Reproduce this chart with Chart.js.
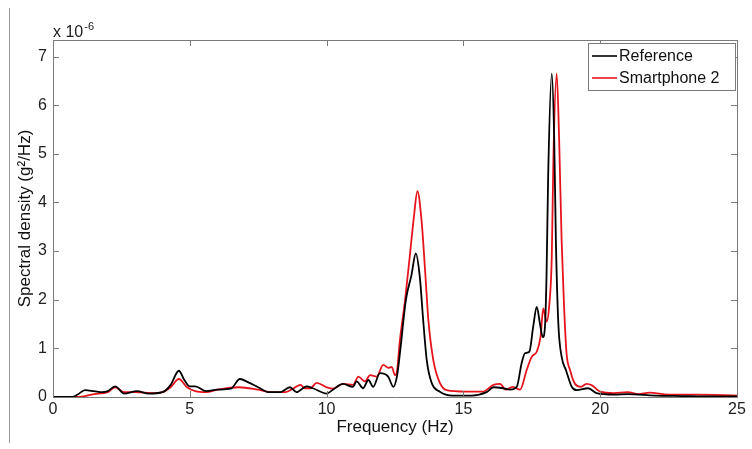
<!DOCTYPE html>
<html>
<head>
<meta charset="utf-8">
<script src="https://cdn.jsdelivr.net/npm/chart.js@4.4.1/dist/chart.umd.min.js"></script>
<style>
  body { margin: 0; background: #fff; }
  #wrap { position: relative; width: 752px; height: 449px; }
  #edge { position: absolute; left: 9px; top: 8px; width: 1px; height: 435px; background: #9a9a9a; }
</style>
</head>
<body>
<div id="wrap">
  <div id="edge"></div>
  <canvas id="psd" width="752" height="449"></canvas>
</div>
<script>
//------------- DATA (spectral density, units of 1e-6 g^2/Hz) -------------

const refFreq = [0, 0.7, 0.9, 1.17, 1.5, 1.8, 2.0, 2.27, 2.6, 3.07, 3.5, 4.0, 4.3, 4.6, 4.8, 5.0, 5.2, 5.6, 6.0, 6.5,
  6.83, 7.14, 7.5, 7.9, 8.3, 8.66, 8.9, 9.27, 9.5, 10.0, 10.23, 10.6, 10.96, 11.1, 11.33, 11.53, 11.7, 11.95, 12.25, 12.44,
  12.58, 12.68, 12.9, 13.1, 13.26, 13.41, 13.53, 13.66, 13.84, 14.14, 14.6, 15.3, 15.85, 16.1, 16.45, 16.7, 16.95, 17.13, 17.25, 17.41,
  17.55, 17.68, 17.8, 17.9, 17.98, 18.04, 18.1, 18.23, 18.32, 18.38, 18.47, 18.59, 18.75, 18.96, 19.14, 19.56, 19.87, 20.5, 21, 22,
  23, 24, 25];
const refVals = [0, 0, 0.05, 0.14, 0.12, 0.1, 0.12, 0.22, 0.07, 0.12, 0.07, 0.1, 0.25, 0.54, 0.35, 0.22, 0.22, 0.12, 0.15, 0.17,
  0.37, 0.3, 0.2, 0.1, 0.1, 0.2, 0.1, 0.22, 0.18, 0.07, 0.15, 0.27, 0.21, 0.32, 0.18, 0.35, 0.21, 0.49, 0.42, 0.21,
  0.45, 0.9, 2.0, 2.5, 2.95, 2.45, 1.58, 0.76, 0.29, 0.11, 0.03, 0.03, 0.1, 0.2, 0.18, 0.15, 0.21, 0.7, 0.9, 0.93,
  1.44, 1.85, 1.5, 1.23, 1.44, 2.54, 4.6, 6.65, 5.28, 3.22, 1.51, 0.83, 0.55, 0.21, 0.14, 0.18, 0.08, 0.05, 0.06, 0.03,
  0.02, 0.01, 0.01];

const phoneFreq = [0, 0.9, 1.5, 2.0, 2.27, 2.6, 3.0, 3.6, 4.0, 4.3, 4.6, 4.9, 5.2, 5.6, 6.0, 6.8, 7.5, 8.0, 8.5, 8.8,
  9.05, 9.2, 9.4, 9.64, 10.0, 10.23, 10.6, 10.97, 11.16, 11.4, 11.59, 11.83, 12.07, 12.26, 12.38, 12.5, 12.56, 12.68, 12.87, 13.05,
  13.19, 13.32, 13.47, 13.6, 13.72, 13.9, 14.14, 14.39, 15.1, 15.7, 16.1, 16.34, 16.55, 16.8, 17.07, 17.31, 17.5, 17.68, 17.82, 17.92,
  18.04, 18.14, 18.23, 18.29, 18.41, 18.5, 18.59, 18.68, 18.77, 18.9, 19.08, 19.3, 19.5, 19.7, 20.0, 20.5, 21.0, 21.4, 21.8, 22.5,
  23.5, 24.5, 25];
const phoneVals = [0, 0, 0.06, 0.1, 0.2, 0.1, 0.1, 0.08, 0.1, 0.2, 0.37, 0.2, 0.12, 0.1, 0.15, 0.2, 0.15, 0.1, 0.1, 0.18,
  0.25, 0.18, 0.18, 0.29, 0.2, 0.17, 0.27, 0.25, 0.42, 0.32, 0.45, 0.42, 0.66, 0.6, 0.62, 0.45, 0.49, 1.17, 2.0, 2.95,
  3.7, 4.23, 3.63, 2.6, 1.58, 0.76, 0.29, 0.14, 0.11, 0.11, 0.25, 0.27, 0.15, 0.21, 0.15, 0.55, 0.83, 0.93, 1.24, 1.82,
  1.55, 1.9, 2.88, 4.93, 6.65, 5.28, 3.22, 1.85, 0.9, 0.55, 0.27, 0.21, 0.27, 0.24, 0.11, 0.08, 0.1, 0.06, 0.09, 0.05,
  0.05, 0.04, 0.03];

const seriesNames = ["Reference", "Smartphone 2"];
const xTicks = [0, 5, 10, 15, 20, 25];
const yTicks = [0, 1, 2, 3, 4, 5, 6, 7];

const FONT = "'Liberation Sans', Arial, sans-serif";
const AXIS_COLOR = "#7a7a7a";

function toPoints(fs, vs) {
  return fs.map((f, i) => ({x: f, y: vs[i]}));
}

//------------- PLUGIN: inward ticks, exponent, legend -------------

const matlabBits = {
  id: "matlabBits",
  afterDraw(chart) {
    const c = chart.ctx;
    const a = chart.chartArea;
    const xs = chart.scales.x, ys = chart.scales.y;
    c.save();
    c.strokeStyle = AXIS_COLOR;
    c.lineWidth = 1;
    c.beginPath();
    xTicks.forEach(t => {
      const px = Math.round(xs.getPixelForValue(t)) + 0.5;
      c.moveTo(px, a.bottom); c.lineTo(px, a.bottom - 6);
      c.moveTo(px, a.top); c.lineTo(px, a.top + 6);
    });
    yTicks.forEach(t => {
      const py = Math.round(ys.getPixelForValue(t)) + 0.5;
      c.moveTo(a.left, py); c.lineTo(a.left + 6, py);
      c.moveTo(a.right, py); c.lineTo(a.right - 6, py);
    });
    c.stroke();

    // exponent label
    c.fillStyle = "#222";
    c.textBaseline = "alphabetic";
    c.textAlign = "left";
    c.font = "16px " + FONT;
    c.fillText("x 10", a.left, a.top - 3);
    const w = c.measureText("x 10").width;
    c.font = "11px " + FONT;
    c.fillText("-6", a.left + w + 1, a.top - 10);

    // legend box
    const bx = 588, by = 43, bw = 147, bh = 47;
    c.fillStyle = "#fff";
    c.fillRect(bx, by, bw, bh);
    c.strokeStyle = AXIS_COLOR;
    c.strokeRect(bx + 0.5, by + 0.5, bw, bh);
    c.font = "16px " + FONT;
    c.textBaseline = "middle";
    chart.data.datasets.forEach((ds, i) => {
      const ry = by + 13 + i * 22;
      c.strokeStyle = ds.borderColor;
      c.lineWidth = 1.6;
      c.beginPath();
      c.moveTo(bx + 4, ry); c.lineTo(bx + 29, ry);
      c.stroke();
      c.fillStyle = "#111";
      c.fillText(ds.label, bx + 31, ry + 1);
    });
    c.restore();
  }
};

//------------- CHART -------------

const ctx = document.getElementById("psd");
const chart = new Chart(ctx, {
  type: "line",
  data: {
    datasets: [{
      label: seriesNames[0],
      data: toPoints(refFreq, refVals),
      borderColor: "#000000",
      borderWidth: 1.8,
      pointRadius: 0,
      fill: false,
      cubicInterpolationMode: "monotone"
    }, {
      label: seriesNames[1],
      data: toPoints(phoneFreq, phoneVals),
      borderColor: "#e5141c",
      borderWidth: 1.8,
      pointRadius: 0,
      fill: false,
      cubicInterpolationMode: "monotone"
    }]
  },
  options: {
    responsive: false,
    animation: false,
    layout: {padding: {left: 0, top: 40, right: 15, bottom: 0}},
    plugins: {legend: {display: false}, tooltip: {enabled: false}},
    scales: {
      x: {
        type: "linear",
        min: 0, max: 25,
        afterFit: s => { s.height = 52; },
        afterBuildTicks: s => { s.ticks = xTicks.map(v => ({value: v})); },
        grid: {display: false, drawTicks: false},
        border: {display: true, color: AXIS_COLOR, width: 1},
        ticks: {color: "#222", font: {family: FONT, size: 16}, padding: 3, maxRotation: 0},
        title: {display: true, text: "Frequency (Hz)", color: "#111",
                font: {family: FONT, size: 17}, padding: {top: 0, bottom: 11}}
      },
      y: {
        min: 0, max: 7.34,
        afterFit: s => { s.width = 53; },
        afterBuildTicks: s => { s.ticks = yTicks.map(v => ({value: v})); },
        grid: {display: false, drawTicks: false},
        border: {display: true, color: AXIS_COLOR, width: 1},
        ticks: {color: "#222", font: {family: FONT, size: 16}, padding: 6},
        title: {display: true, text: "Spectral density (g\u00b2/Hz)", color: "#111",
                font: {family: FONT, size: 17}, padding: {top: 15, bottom: 0}}
      }
    }
  },
  plugins: [matlabBits]
});

// close the box on top and right
const boxPlugin = {
  id: "box",
  afterDatasetsDraw(ch) {
    const c = ch.ctx, a = ch.chartArea;
    c.save();
    c.strokeStyle = AXIS_COLOR;
    c.lineWidth = 1;
    c.beginPath();
    c.moveTo(a.left, Math.round(a.top) + 0.5); c.lineTo(a.right, Math.round(a.top) + 0.5);
    c.moveTo(Math.round(a.right) + 0.5, a.top); c.lineTo(Math.round(a.right) + 0.5, a.bottom);
    c.stroke();
    c.restore();
  }
};
Chart.register(boxPlugin);
chart.update();
</script>
</body>
</html>
